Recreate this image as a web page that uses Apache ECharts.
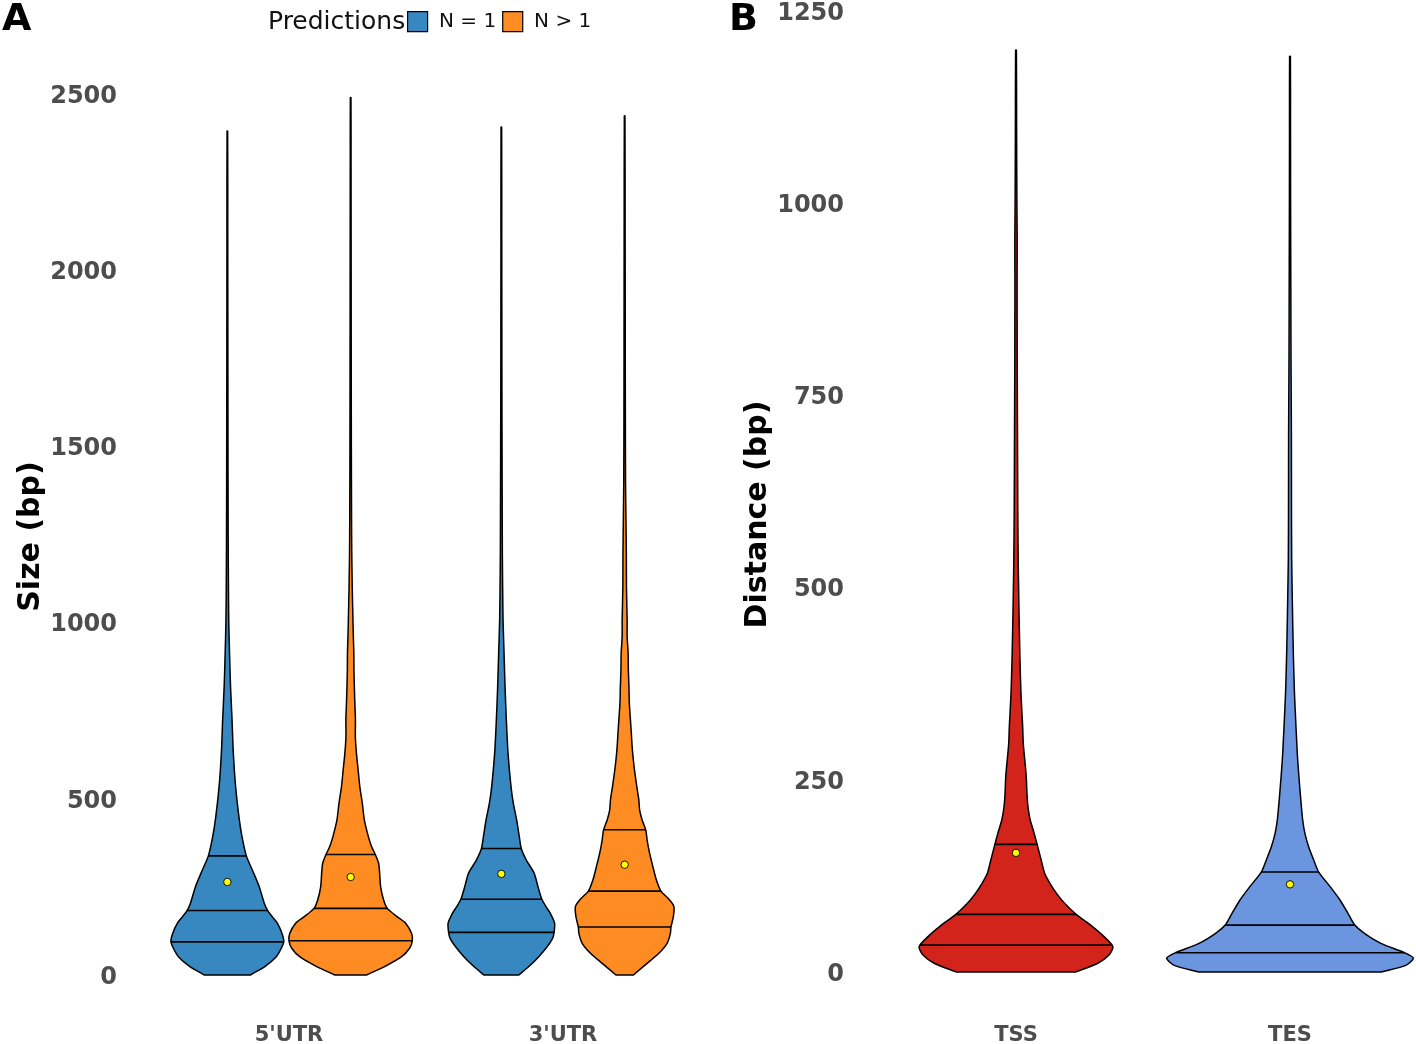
<!DOCTYPE html>
<html>
<head>
<meta charset="utf-8">
<script src="https://cdn.jsdelivr.net/npm/echarts@6/dist/echarts.min.js"></script>
<style>
  html, body { margin: 0; padding: 0; background: #ffffff; }
  #chart { width: 1416px; height: 1044px; }
</style>
</head>
<body>
<div id="chart"></div>
<script>
// ---------- DATA ----------
const categoriesA = ["5'UTR", "3'UTR"];
const groupsA = ['N = 1', 'N > 1'];
const categoriesB = ['TSS', 'TES'];
const ticksA = [0, 500, 1000, 1500, 2000, 2500];
const ticksB = [0, 250, 500, 750, 1000, 1250];

// violin density profiles: [value (bp), relative density]
const density5UTR_N1 = [[0,23],[24,37.5],[52,49],[76,54],[95,56.5],[118,54.7],[147,50],[165,45],[182,40.5],[203,37],[250,32],[298,25],[338,19],[392,14.7],[440,12],[534,8.3],[629,6],[724,4.7],[818,3.2],[913,2.2],[1007,1.4],[1100,1.1],[1200,0.9],[1400,0.7],[1600,0.6],[1800,0.5],[2100,0.4],[2395,0.3]];
const density5UTR_N2 = [[0,15.8],[24,34],[52,51],[76,59],[97,61.7],[118,61],[147,55],[165,46.7],[189,36.7],[213,33],[250,30],[289,29],[317,28],[342,24.7],[364,21],[392,17.8],[440,13.7],[487,11.7],[534,9.2],[582,7.5],[629,5.8],[676,4.7],[724,4.8],[771,4.2],[818,3.7],[866,3.3],[913,3.2],[960,2.7],[1007,2.3],[1100,1.6],[1200,1.1],[1300,0.9],[1500,0.7],[1700,0.6],[2000,0.5],[2300,0.4],[2490,0.3]];
const density3UTR_N1 = [[0,17.5],[24,27.5],[52,37.5],[80,45.8],[104,51.3],[121,52.8],[147,53.3],[175,49],[194,44.7],[215,40.5],[250,36.7],[289,32.8],[326,25],[358,20],[392,18],[440,15.3],[487,12],[534,9.7],[629,6.7],[724,5],[818,3.7],[913,2.7],[1007,1.7],[1100,1.3],[1200,1.0],[1400,0.8],[1600,0.6],[1800,0.5],[2100,0.4],[2406,0.3]];
const density3UTR_N2 = [[0,8.7],[33,22.5],[61,34],[90,42.5],[118,45.8],[135,46.3],[166,48.8],[194,49.3],[213,45],[238,36.3],[270,31.7],[307,28.3],[345,25],[383,22.5],[411,21.2],[440,17.5],[468,15],[497,14.2],[534,12.2],[572,10.3],[610,8.7],[648,7.5],[686,6.7],[724,5.8],[771,4.7],[818,4.3],[866,3.7],[913,3.5],[960,2.5],[1007,2.5],[1102,1.8],[1197,1.7],[1291,1.3],[1400,0.9],[1600,0.7],[1800,0.6],[2100,0.5],[2438,0.3]];
const densityTSS = [[0,59.5],[11,81.7],[22,93.3],[33,97.2],[46,88.3],[59,76.7],[75,60.3],[89,49],[102,40.8],[115,34.2],[128,28.8],[146,25.2],[166,21.2],[180,18.3],[198,14.2],[215,12],[232,11],[254,10.3],[276,8.8],[297,7.3],[319,6.7],[362,5],[406,4],[449,3.3],[493,2.7],[536,2.2],[600,1.8],[700,1.5],[800,1.2],[900,1.1],[950,1.2],[1000,0.9],[1100,0.6],[1199,0.4]];
const densityTES = [[0,91.7],[9,116.7],[18,123.7],[25,115],[37,91.7],[50,75],[61,65],[76,58.3],[94,50],[111,40.3],[130,28.8],[146,23.7],[163,18.7],[180,15],[198,12.7],[232,10.3],[276,7.7],[319,6],[362,4.5],[406,3.5],[449,2.8],[493,2.2],[536,1.7],[600,1.5],[700,1.4],[800,1.0],[900,0.8],[1000,0.6],[1100,0.5],[1191,0.4]];

// quartiles [Q1, median, Q3] and means
const quart5UTR_N1 = [94, 183, 338];
const quart5UTR_N2 = [97, 189, 342];
const quart3UTR_N1 = [121, 215, 359];
const quart3UTR_N2 = [136, 238, 412];
const quartTSS = [35, 75, 166];
const quartTES = [25, 61, 130];
const mean5UTR_N1 = 264;
const mean5UTR_N2 = 278;
const mean3UTR_N1 = 287;
const mean3UTR_N2 = 313;
const meanTSS = 155;
const meanTES = 114;

// ---------- STYLE ----------
const colN1 = '#3787C0';
const colN2 = '#FF8C22';
const colTSS = '#D2241B';
const colTES = '#6B95DF';
const FONT = 'DejaVu Sans';
const GREY = '#4D4D4D';

function densAt(prof, v) {
  for (let i = 0; i < prof.length - 1; i++) {
    const a = prof[i], b = prof[i + 1];
    if (v >= a[0] && v <= b[0]) {
      const t = (v - a[0]) / (b[0] - a[0]);
      return a[1] + t * (b[1] - a[1]);
    }
  }
  return 0;
}

function makeRender(profiles, quarts, means, colors, offsetFrac, halfFrac, panelMax) {
  return function (params, api) {
    const ci = api.value(0);
    const base = api.coord([ci, 0]);
    const band = api.size([1, 0], [ci, 0])[0];
    const cx = base[0] + offsetFrac * band;
    const k = halfFrac * band / panelMax;
    const prof = profiles[ci];
    const left = [], right = [];
    prof.forEach(function (p) {
      const y = api.coord([ci, p[0]])[1];
      left.push([cx - p[1] * k, y]);
      right.push([cx + p[1] * k, y]);
    });
    // repeat the bottom corners so the flat (trimmed) bottom keeps sharp corners
    left.unshift(left[0].slice());
    right.unshift(right[0].slice());
    const pts = left.concat(right.reverse());
    const children = [{
      type: 'polygon',
      shape: { points: pts, smooth: 0.25 },
      style: { fill: colors[ci], stroke: '#000', lineWidth: 1.5 }
    }];
    quarts[ci].forEach(function (q) {
      const y = api.coord([ci, q])[1];
      const hw = densAt(prof, q) * k;
      children.push({
        type: 'line',
        shape: { x1: cx - hw, y1: y, x2: cx + hw, y2: y },
        style: { stroke: '#000', lineWidth: 1.6 }
      });
    });
    const my = api.coord([ci, means[ci]])[1];
    children.push({
      type: 'circle',
      shape: { cx: cx, cy: my, r: 3.7 },
      style: { fill: '#FFFF00', stroke: '#000', lineWidth: 0.9 }
    });
    return { type: 'group', children: children };
  };
}

const profA1 = [density5UTR_N1, density3UTR_N1];
const profA2 = [density5UTR_N2, density3UTR_N2];
const profB = [densityTSS, densityTES];
const maxA = Math.max.apply(null, profA1.concat(profA2).map(p => Math.max.apply(null, p.map(d => d[1]))));
const maxB = Math.max.apply(null, profB.map(p => Math.max.apply(null, p.map(d => d[1]))));

function topOf(p) { return p[p.length - 1][0]; }

const chart = echarts.init(document.getElementById('chart'), null, { renderer: 'canvas' });

const yAxisCommon = {
  type: 'value',
  axisLine: { show: false },
  axisTick: { show: false },
  splitLine: { show: false },
  nameLocation: 'middle',
  axisLabel: {
    fontFamily: FONT, fontWeight: 'bold', fontSize: 24, color: GREY, margin: 35,
    formatter: function (v) { return '{t|' + v + '}'; },
    rich: { t: { fontFamily: FONT, fontWeight: 'bold', fontSize: 24, color: GREY, padding: [5, 0, 0, 0] } }
  }
};
const xAxisCommon = {
  type: 'category',
  boundaryGap: true,
  axisLine: { show: false },
  axisTick: { show: false },
  splitLine: { show: false },
  axisLabel: { fontFamily: FONT, fontWeight: 'bold', fontSize: 21, color: GREY }
};

const option = {
  backgroundColor: '#ffffff',
  animation: false,
  grid: [
    { left: 152, top: 94, width: 548, height: 881, outerBoundsMode: 'none', containLabel: false },
    { left: 879, top: 11, width: 548, height: 961, outerBoundsMode: 'none', containLabel: false }
  ],
  xAxis: [
    Object.assign({}, xAxisCommon, { gridIndex: 0, data: categoriesA, axisLabel: Object.assign({}, xAxisCommon.axisLabel, { margin: 50 }) }),
    Object.assign({}, xAxisCommon, { gridIndex: 1, data: categoriesB, axisLabel: Object.assign({}, xAxisCommon.axisLabel, { margin: 53 }) })
  ],
  yAxis: [
    Object.assign({}, yAxisCommon, {
      gridIndex: 0, min: ticksA[0], max: ticksA[ticksA.length - 1], interval: ticksA[1] - ticksA[0],
      name: 'Size (bp)', nameGap: 94,
      nameTextStyle: { fontFamily: FONT, fontWeight: 'bold', fontSize: 30, color: '#000', padding: [0, 4, 0, 0] }
    }),
    Object.assign({}, yAxisCommon, {
      gridIndex: 1, min: ticksB[0], max: ticksB[ticksB.length - 1], interval: ticksB[1] - ticksB[0],
      name: 'Distance (bp)', nameGap: 95,
      nameTextStyle: { fontFamily: FONT, fontWeight: 'bold', fontSize: 30, color: '#000', padding: [0, 46, 0, 0] }
    })
  ],
  legend: {
    data: groupsA,
    left: 402,
    top: 6,
    orient: 'horizontal',
    itemWidth: 20,
    itemHeight: 20,
    itemGap: 6,
    icon: 'rect',
    formatter: function (name) { return ' ' + name; },
    itemStyle: { borderColor: '#000', borderWidth: 1.2 },
    textStyle: { fontFamily: FONT, fontSize: 20, color: '#111' }
  },
  graphic: [
    { type: 'text', left: 2, top: 1, style: { text: 'A', font: 'bold 38px "DejaVu Sans"', fill: '#000' } },
    { type: 'text', left: 729, top: 1, style: { text: 'B', font: 'bold 38px "DejaVu Sans"', fill: '#000' } },
    { type: 'text', left: 268, top: 10, style: { text: 'Predictions', font: '25px "DejaVu Sans"', fill: '#111' } }
  ],
  series: [
    {
      type: 'custom', name: groupsA[0], xAxisIndex: 0, yAxisIndex: 0,
      itemStyle: { color: colN1 },
      encode: { x: 0, y: 1 },
      data: [[0, topOf(density5UTR_N1)], [1, topOf(density3UTR_N1)]],
      renderItem: makeRender(profA1, [quart5UTR_N1, quart3UTR_N1], [mean5UTR_N1, mean3UTR_N1], [colN1, colN1], -0.225, 0.225, maxA)
    },
    {
      type: 'custom', name: groupsA[1], xAxisIndex: 0, yAxisIndex: 0,
      itemStyle: { color: colN2 },
      encode: { x: 0, y: 1 },
      data: [[0, topOf(density5UTR_N2)], [1, topOf(density3UTR_N2)]],
      renderItem: makeRender(profA2, [quart5UTR_N2, quart3UTR_N2], [mean5UTR_N2, mean3UTR_N2], [colN2, colN2], 0.225, 0.225, maxA)
    },
    {
      type: 'custom', name: 'Position', xAxisIndex: 1, yAxisIndex: 1,
      itemStyle: { color: colTSS },
      encode: { x: 0, y: 1 },
      data: [[0, topOf(densityTSS)], [1, topOf(densityTES)]],
      renderItem: makeRender(profB, [quartTSS, quartTES], [meanTSS, meanTES], [colTSS, colTES], 0, 0.45, maxB)
    }
  ]
};
chart.setOption(option);
</script>
</body>
</html>
